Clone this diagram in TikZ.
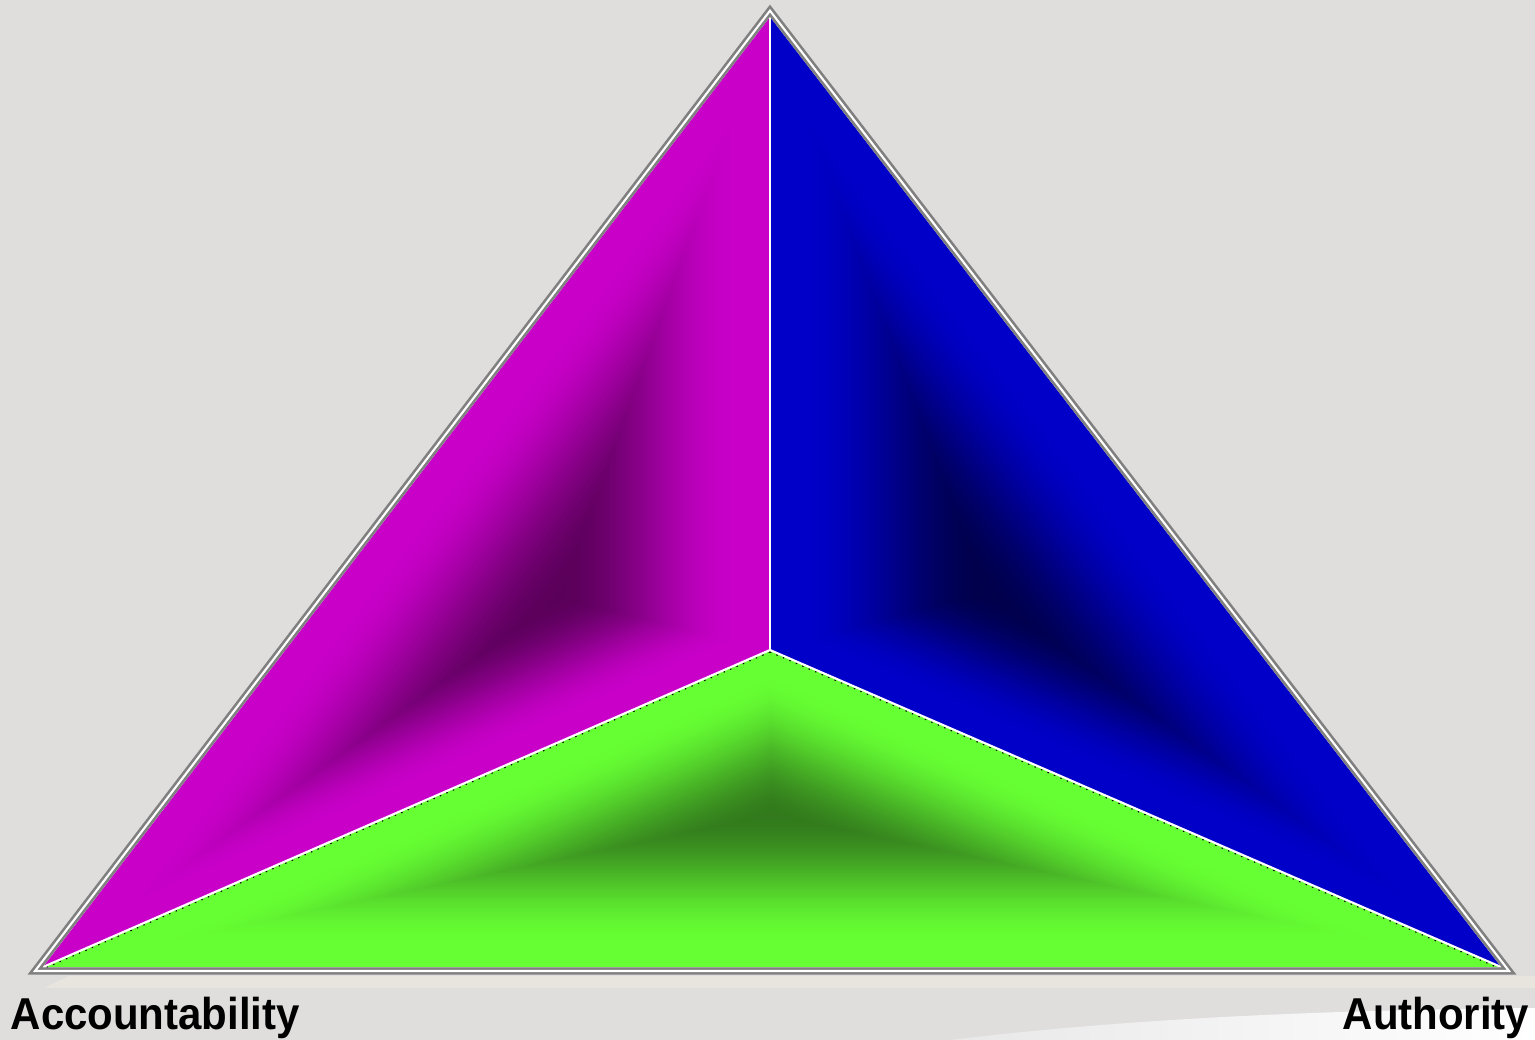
\documentclass[tikz,border=0pt]{standalone}
\usepackage{fontspec}
\setmainfont{Liberation Sans}
\usepackage{xcolor}
\usetikzlibrary{calc}

\definecolor{bgcol}{RGB}{224,221,221}
\definecolor{bandcol}{RGB}{232,228,222}
\definecolor{swoosh}{RGB}{233,232,232}
\definecolor{rimcol}{RGB}{128,128,128}
\definecolor{magHi}{RGB}{200,0,200}
\definecolor{magLo}{RGB}{90,0,90}
\definecolor{bluHi}{RGB}{0,0,200}
\definecolor{bluLo}{RGB}{0,0,75}
\definecolor{grnHi}{RGB}{102,255,51}
\definecolor{grnLo}{RGB}{50,122,28}

\begin{document}
\begin{tikzpicture}[x=0.01cm,y=-0.01cm,
  rim/.style={draw=rimcol,double=white,line width=0.75pt,double distance=0.6pt,line join=miter},
  seam/.style={white,line width=0.6pt},
  fringe/.style={black,line width=0.35pt,dash pattern=on 0.4pt off 1.6pt},
  lab/.style={font=\fontsize{12.7pt}{15pt}\selectfont\bfseries,inner sep=0pt,text=black}
]
% backdrop
\fill[bgcol] (0,0) rectangle (1535,1040);
\shade[left color=swoosh,right color=white]
  (950,1040) .. controls (1150,1016) and (1350,1010) .. (1535,1008) -- (1535,1040) -- cycle;
\fill[bandcol] (44,988) -- (69,976) -- (1535,976) -- (1535,988) -- cycle;
% corners of the faces and the dark spot of each face
\coordinate (top) at (770,17);
\coordinate (left) at (43,967);
\coordinate (right) at (1501,967);
\coordinate (mid) at (770,650);
\coordinate (cmag) at (560,598);
\coordinate (cblu) at (985,592);
\coordinate (cgrn) at (772,815);
% faces, darkening toward the spot
\foreach \a/\b/\c/\hub/\hi/\lo in {top/left/mid/cmag/magHi/magLo,
    top/right/mid/cblu/bluHi/bluLo, left/right/mid/cgrn/grnHi/grnLo}{
  \fill[\hi] (\a) -- (\b) -- (\c) -- cycle;
  \foreach \k in {0,...,59}{
    \pgfmathsetmacro\f{0.88*(1-\k/60)}
    \pgfmathsetmacro\s{min(1,\f/0.85)}
    \pgfmathsetmacro\p{100*(3*\s*\s-2*\s*\s*\s)}
    \fill[\hi!\p!\lo] ($(\hub)!\f!(\a)$) -- ($(\hub)!\f!(\b)$) -- ($(\hub)!\f!(\c)$) -- cycle;
  }
}
% seams between the faces
\draw[fringe] ([yshift=-0.55pt]mid) -- ([yshift=-0.55pt]left);
\draw[fringe] ([yshift=-0.55pt]mid) -- ([yshift=-0.55pt]right);
\draw[seam] (mid) -- (top);
\draw[seam] (mid) -- (left);
\draw[seam] (mid) -- (right);
% double rim
\coordinate (rtop) at (770,10.7);
\coordinate (rleft) at (35,971);
\coordinate (rright) at (1509,971);
\draw[rim] (rtop) -- (rleft) -- (rright) -- cycle;
% corner labels
\node[lab,anchor=base west] (acc) at (10,1030) {\scalebox{0.94}[1]{Accountability}};
\node[lab,anchor=base east] (auth) at (1530,1030) {\scalebox{0.94}[1]{Authority}};
\end{tikzpicture}
\end{document}
